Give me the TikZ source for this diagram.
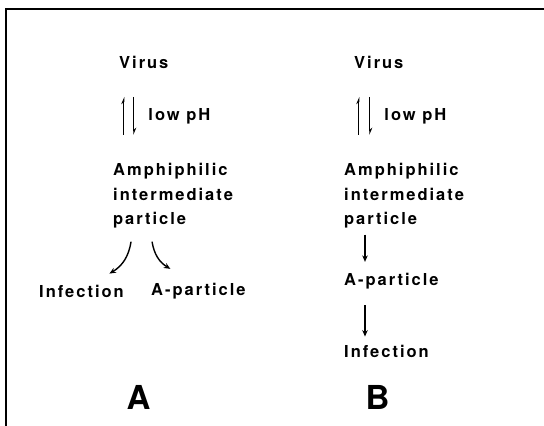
\documentclass[tikz,border=0pt]{standalone}
\usepackage{fontspec}
\usepackage{tikz}
\usetikzlibrary{arrows.meta, positioning}
\newfontfamily\lblfont{TeX Gyre Heros}[LetterSpace=12]
\newfontfamily\bigfont{TeX Gyre Heros}

\begin{document}
\begin{tikzpicture}[x=1pt, y=-1pt, >=Stealth, flow/.style={line width=1.4pt, -{Stealth[length=6.5pt, width=5.5pt]}}, eq/.style={line width=1.4pt}, lbl/.style={inner sep=0pt, anchor=west, align=left, font={\lblfont\bfseries\fontsize{16.5}{24.5}\selectfont}}, big/.style={inner sep=0pt, font={\bigfont\bfseries\fontsize{33}{36}\selectfont}} ]
		\useasboundingbox (0,0) rectangle (544,426);
		% frame
		\draw[line width=2pt] (6,426) -- (6,9) -- (544,9);
		% Scheme A
		\node[lbl] (virA) at (119,62.5) {Virus};
		\node[lbl] (amA) at (113,196) {Amphiphilic\\intermediate\\particle};
		\node[lbl] (infA) at (39,291) {Infection};
		\node[lbl] (apA) at (151,291) {A-particle};
		\node[big] (labA) at (138.5,397) {A};
		\draw[eq, {Stealth[harpoon, length=6pt, width=5pt]}-] ([xshift=-20pt, yshift=-28pt]virA.south) -- ++(0,38);
		\draw[eq, -{Stealth[harpoon, length=6pt, width=5pt]}] ([xshift=-10pt, yshift=-28pt]virA.south) -- node[right=14pt, lbl, anchor=west] (phA) {low pH} ++(0,38);
		\draw[flow] ([xshift=-42pt, yshift=-13pt]amA.south) to[bend left=25] ([xshift=28pt, yshift=11pt]infA.north);
		\draw[flow] ([xshift=-21pt, yshift=-13pt]amA.south) to[bend right=25] ([xshift=-28pt, yshift=14pt]apA.north);
		% Scheme B
		\node[lbl] (virB) at (354,62.5) {Virus};
		\node[lbl] (amB) at (344,196) {Amphiphilic\\intermediate\\particle};
		\node[lbl] (apB) at (344,281) {A-particle};
		\node[lbl] (infB) at (344,351) {Infection};
		\node[big] (labB) at (377.5,397) {B};
		\draw[eq, {Stealth[harpoon, length=6pt, width=5pt]}-] ([xshift=-20pt, yshift=-28pt]virB.south) -- ++(0,38);
		\draw[eq, -{Stealth[harpoon, length=6pt, width=5pt]}] ([xshift=-9pt, yshift=-28pt]virB.south) -- node[right=14pt, lbl, anchor=west] (phB) {low pH} ++(0,38);
		\draw[flow, shorten <=6pt, shorten >=11pt] ([xshift=21pt]amB.south west) -- ([xshift=21pt]apB.north west);
		\draw[flow, shorten <=16pt, shorten >=8pt] ([xshift=21pt]apB.south west) -- ([xshift=21pt]infB.north west);
\end{tikzpicture}
\end{document}
